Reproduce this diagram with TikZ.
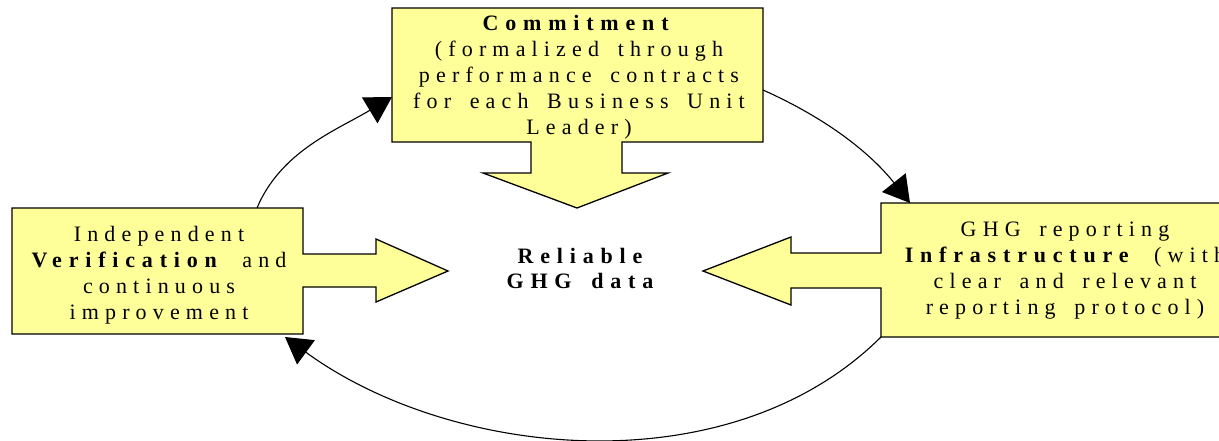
\documentclass[tikz,border=0pt]{standalone}
\usepackage{fontspec}
\setmainfont{Liberation Serif}[LetterSpace=28,WordSpace=1.6,BoldFeatures={LetterSpace=31}]
\usetikzlibrary{arrows.meta}
\definecolor{boxyellow}{RGB}{255,255,153}
\begin{document}
\begin{tikzpicture}[x=1pt,y=-1pt,
  shapebox/.style={draw=black,line width=1.3pt,fill=boxyellow,line join=miter},
  lbl/.style={align=center,font=\fontsize{22}{26}\selectfont,inner sep=0pt},
  conn/.style={line width=1.1pt,-{Triangle[length=26pt,width=30pt]}}]
\path[use as bounding box,clip] (0,0) rectangle (1219,440);
\fill[white] (0,0) rectangle (1219,440);
% shapes
\draw[shapebox] (392,8) -- (763,8) -- (763,142) -- (622,142) -- (622,173) -- (668,173) -- (577,208) -- (483,173) -- (531,173) -- (531,142) -- (392,142) -- cycle;
\draw[shapebox] (12,208) -- (303,208) -- (303,254) -- (376,254) -- (376,239) -- (448,271) -- (376,302) -- (376,287) -- (303,287) -- (303,334) -- (12,334) -- cycle;
\draw[shapebox] (881,203) -- (1244,203) -- (1244,337) -- (881,337) -- (881,288) -- (791,288) -- (791,305) -- (703,271) -- (791,237) -- (791,253) -- (881,253) -- cycle;
% texts
\node[lbl] (commit) at (579,77) {\textbf{Commitment}\\(formalized through\\performance contracts\\for each Business Unit\\Leader)};
\node[lbl] (verif) at (159,275) {Independent\\\textbf{Verification} and\\continuous\\improvement};
\node[lbl] (infra) at (1065,271) {GHG reporting\\\textbf{Infrastructure} (with\\clear and relevant\\reporting protocol)};
\node[lbl,font=\fontsize{22}{25}\selectfont\bfseries] (data) at (580,268) {Reliable\\GHG data};
% connector ends
\coordinate (a1s) at (257,208);
\coordinate (a1e) at (392,97);
\coordinate (a2s) at (763,90);
\coordinate (a2e) at (910,203);
\coordinate (a3s) at (881,337);
\coordinate (a3e) at (285,337);
\draw[conn] (a1s) .. controls (281,151) and (337,130) .. (a1e);
\draw[conn] (a2s) .. controls (830,120) and (872,155) .. (a2e);
\draw[conn] (a3s) .. controls (730,487) and (452,459) .. (a3e);
\end{tikzpicture}
\end{document}
